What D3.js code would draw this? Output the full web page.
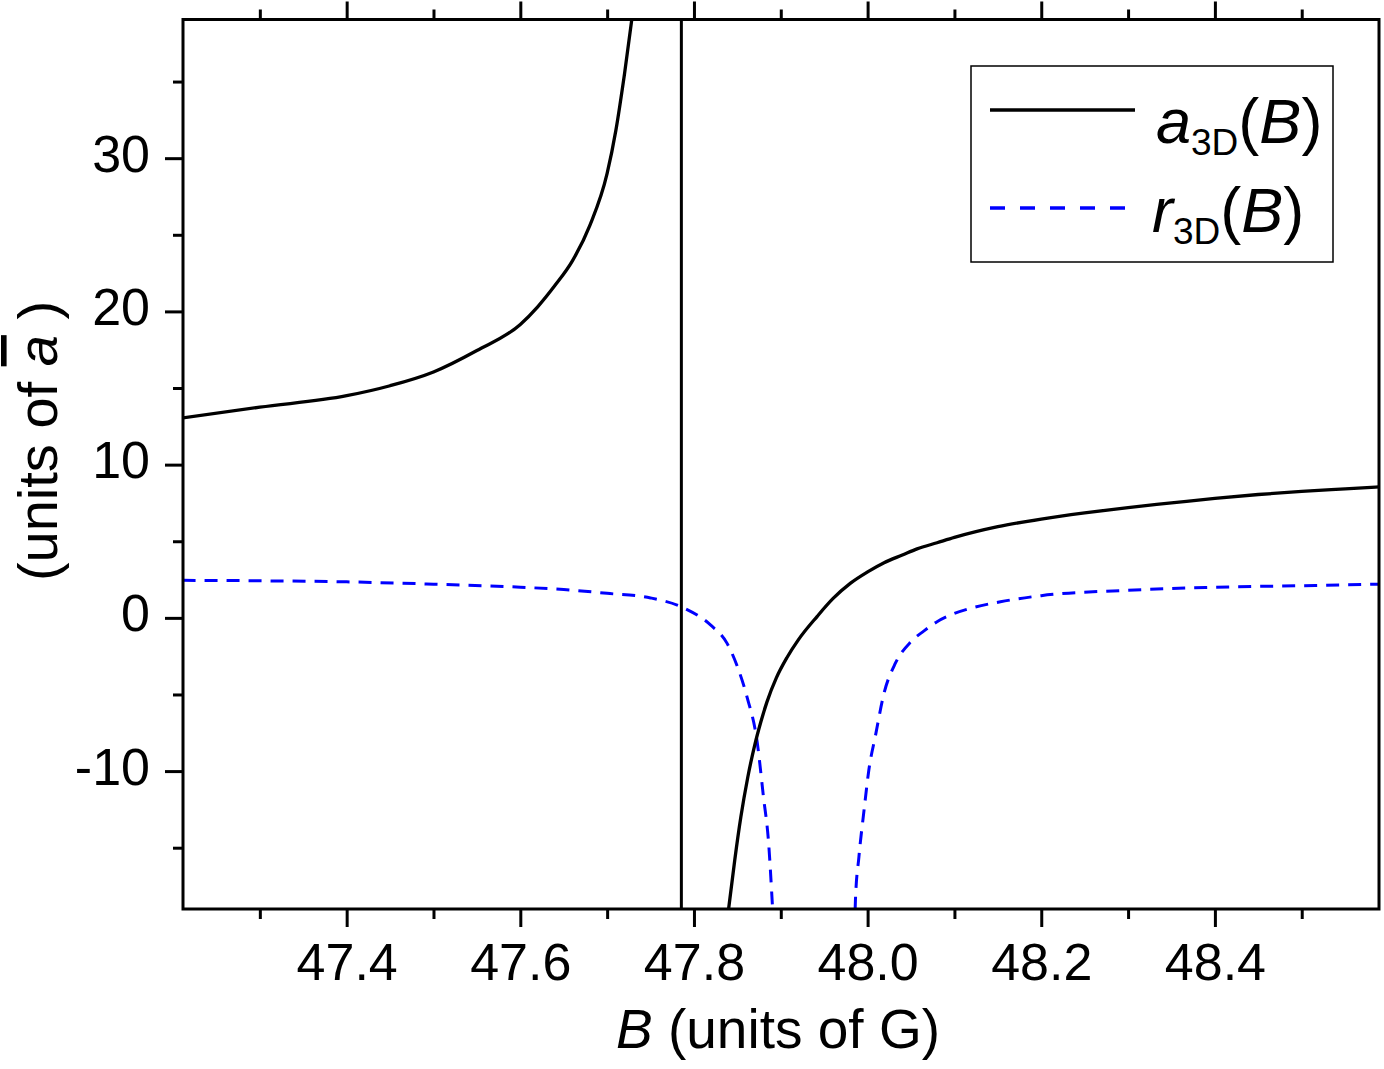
<!DOCTYPE html>
<html>
<head>
<meta charset="utf-8">
<script src="https://cdn.jsdelivr.net/npm/d3@7"></script>
<style>
  html, body { margin: 0; padding: 0; background: #fff; }
  svg { display: block; font-family: "Liberation Sans", Arial, Helvetica, sans-serif; }
</style>
</head>
<body>
<svg id="chart" width="1384" height="1069"></svg>
<script>
// ---------- data ----------
const xDomain = [47.2115, 48.589];
const yDomain = [-19.0, 39.05];

const xMajorTicks = [47.4, 47.6, 47.8, 48.0, 48.2, 48.4];
const xMinorTicks = [47.3, 47.5, 47.7, 47.9, 48.1, 48.3, 48.5];
const yMajorTicks = [-10, 0, 10, 20, 30];
const yMinorTicks = [-15, -5, 5, 15, 25, 35];

// a3D(B), branch below the resonance
const aLeftB = [47.211, 47.30, 47.40, 47.45, 47.50, 47.55, 47.60, 47.62, 47.64, 47.66, 47.68, 47.70, 47.71, 47.72, 47.733];
const aLeftV = [13.05, 13.75, 14.5, 15.15, 16.05, 17.45, 19.15, 20.3, 21.7, 23.3, 25.6, 29.0, 31.8, 35.5, 41.0];
// vertical jump of a3D(B) at the pole
const aPoleB = [47.7855, 47.7855];
const aPoleV = [60, -60];
// a3D(B), branch above the resonance
const aRightB = [47.840, 47.847, 47.854, 47.862, 47.870, 47.877, 47.884, 47.895, 47.907, 47.920, 47.942, 47.960, 47.980, 48.000, 48.019, 48.040, 48.057, 48.080, 48.100, 48.150, 48.200, 48.250, 48.300, 48.350, 48.400, 48.450, 48.500, 48.550, 48.589];
const aRightV = [-18.95, -15.8, -13.0, -10.4, -8.3, -6.8, -5.5, -3.9, -2.6, -1.45, 0.1, 1.25, 2.25, 3.0, 3.6, 4.1, 4.5, 4.9, 5.25, 5.95, 6.45, 6.85, 7.2, 7.5, 7.8, 8.05, 8.25, 8.42, 8.55];

// r3D(B), left branch
const rLeftB = [47.211, 47.30, 47.40, 47.50, 47.60, 47.65, 47.70, 47.75, 47.789, 47.819, 47.838, 47.850, 47.861, 47.873, 47.880, 47.886, 47.890, 47.892];
const rLeftV = [2.45, 2.42, 2.35, 2.2, 2.0, 1.85, 1.6, 1.3, 0.63, -0.46, -1.65, -3.18, -5.14, -8.18, -11.66, -14.7, -18.4, -20.5];
// r3D(B), right branch
const rRightB = [47.985, 47.986, 47.990, 47.996, 48.0015, 48.009, 48.019, 48.032, 48.050, 48.065, 48.080, 48.096, 48.120, 48.153, 48.20, 48.30, 48.40, 48.50, 48.589];
const rRightV = [-20.5, -18.4, -15.6, -12.5, -9.9, -7.7, -4.9, -2.96, -1.55, -0.85, -0.25, 0.2, 0.65, 1.05, 1.45, 1.8, 2.0, 2.1, 2.2];

// ---------- layout ----------
const margin = { left: 183, top: 19.5 };
const pw = 1379 - margin.left, ph = 909 - margin.top;

const svg = d3.select("#chart");
const g = svg.append("g").attr("transform", `translate(${margin.left},${margin.top})`);

const x = d3.scaleLinear().domain(xDomain).range([0, pw]);
const y = d3.scaleLinear().domain(yDomain).range([ph, 0]);

svg.append("defs").append("clipPath").attr("id", "clip")
  .append("rect").attr("x", 0).attr("y", 0).attr("width", pw).attr("height", ph);

const zip = (a, b) => a.map((d, i) => [d, b[i]]);
const line = d3.line().x(d => x(d[0])).y(d => y(d[1])).curve(d3.curveMonotoneX);
const lineLin = d3.line().x(d => x(d[0])).y(d => y(d[1]));

const plot = g.append("g").attr("clip-path", "url(#clip)");

// r3D dashed blue
[zip(rLeftB, rLeftV), zip(rRightB, rRightV)].forEach(s => {
  plot.append("path").attr("d", line(s)).attr("fill", "none")
    .attr("stroke", "#0000ff").attr("stroke-width", 3).attr("stroke-dasharray", "13,9");
});
// a3D solid black
[zip(aLeftB, aLeftV), zip(aRightB, aRightV)].forEach(s => {
  plot.append("path").attr("d", line(s)).attr("fill", "none")
    .attr("stroke", "#000").attr("stroke-width", 3.3);
});
plot.append("path").attr("d", lineLin(zip(aPoleB, aPoleV))).attr("fill", "none")
  .attr("stroke", "#000").attr("stroke-width", 3);

// ---------- axes ----------
const fontSize = 52;
const styleAxis = (sel) => {
  sel.select(".domain").remove();
  sel.selectAll(".tick line").attr("stroke", "#000").attr("stroke-width", 3);
  sel.selectAll(".tick text").attr("fill", "#000").style("font-size", fontSize + "px")
    .style("font-family", '"Liberation Sans", Arial, Helvetica, sans-serif');
};

// bottom
g.append("g").attr("transform", `translate(0,${ph})`)
  .call(d3.axisBottom(x).tickValues(xMajorTicks).tickSize(18).tickPadding(16).tickFormat(d3.format(".1f")))
  .call(styleAxis);
g.append("g").attr("transform", `translate(0,${ph})`)
  .call(d3.axisBottom(x).tickValues(xMinorTicks).tickSize(10).tickFormat(""))
  .call(styleAxis);
// top
g.append("g")
  .call(d3.axisTop(x).tickValues(xMajorTicks).tickSize(18).tickFormat(""))
  .call(styleAxis);
g.append("g")
  .call(d3.axisTop(x).tickValues(xMinorTicks).tickSize(10).tickFormat(""))
  .call(styleAxis);
// left
const yAx = g.append("g")
  .call(d3.axisLeft(y).tickValues(yMajorTicks).tickSize(18).tickPadding(15).tickFormat(d => String(d)))
  .call(styleAxis);
yAx.selectAll(".tick text").attr("dy", "0.25em");
g.append("g")
  .call(d3.axisLeft(y).tickValues(yMinorTicks).tickSize(10).tickFormat(""))
  .call(styleAxis);

// frame
g.append("rect").attr("x", 0).attr("y", 0).attr("width", pw).attr("height", ph)
  .attr("fill", "none").attr("stroke", "#000").attr("stroke-width", 3);

// ---------- axis titles ----------
const xt = svg.append("text").attr("x", 778).attr("y", 1048).attr("text-anchor", "middle")
  .style("font-size", "55px").attr("fill", "#000");
xt.append("tspan").style("font-style", "italic").text("B");
xt.append("tspan").text(" (units of G)");

const yt = svg.append("text").attr("transform", "translate(57,441) rotate(-90)")
  .attr("text-anchor", "middle").style("font-size", "56px").attr("fill", "#000");
yt.append("tspan").text("(units of ");
yt.append("tspan").style("font-style", "italic").style("text-decoration", "overline").text("a");
yt.append("tspan").text(" )");

// ---------- legend ----------
const lg = svg.append("g");
lg.append("rect").attr("x", 971).attr("y", 66).attr("width", 362).attr("height", 196)
  .attr("fill", "#fff").attr("stroke", "#000").attr("stroke-width", 1.5);
lg.append("line").attr("x1", 990).attr("x2", 1135).attr("y1", 110).attr("y2", 110)
  .attr("stroke", "#000").attr("stroke-width", 3.3);
lg.append("line").attr("x1", 990).attr("x2", 1125).attr("y1", 208).attr("y2", 208)
  .attr("stroke", "#0000ff").attr("stroke-width", 3.3).attr("stroke-dasharray", "15,15");

const legendItems = [
  { sym: "a", x: 1156, y: 143 },
  { sym: "r", x: 1152, y: 232 }
];
legendItems.forEach(it => {
  const t = lg.append("text").attr("x", it.x).attr("y", it.y).style("font-size", "63px").attr("fill", "#000");
  t.append("tspan").style("font-style", "italic").text(it.sym);
  t.append("tspan").attr("dy", 12).style("font-size", "37px").text("3D");
  t.append("tspan").attr("dy", -12).text("(");
  t.append("tspan").style("font-style", "italic").text("B");
  t.append("tspan").text(")");
});
</script>
</body>
</html>
